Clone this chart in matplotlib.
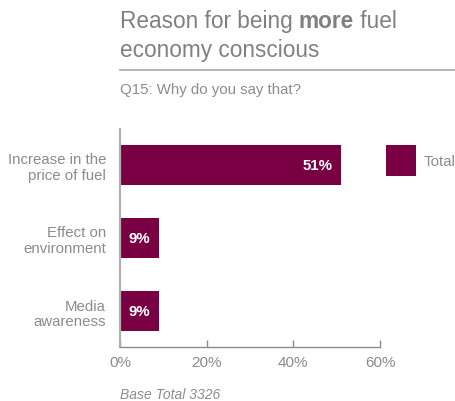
import matplotlib
matplotlib.use("Agg")
import matplotlib.pyplot as plt
from matplotlib.patches import Patch
from matplotlib.lines import Line2D

plt.rcParams["font.family"] = ["Liberation Sans", "DejaVu Sans"]

categories = ["Increase in the\nprice of fuel", "Effect on\nenvironment", "Media\nawareness"]
values = [51, 9, 9]
xticks = [0, 20, 40, 60]
series_name = "Total"
base_note = "Base Total 3326"

BAR = "#7a0044"
GREY = "#8c8c8c"
TITLE_GREY = "#808080"

W, H = 456, 402
fig = plt.figure(figsize=(W / 100, H / 100), dpi=100)
ax = fig.add_axes([120 / W, 1 - 348 / H, 260 / W, 218 / H])

ypos = list(range(len(values)))
ax.barh(ypos, values, height=40 / 73, color=BAR, zorder=2)
ax.set_xlim(0, 60)
ax.set_ylim(len(values) - 1 + 0.493, -0.493)

ax.set_yticks(ypos)
ax.set_yticklabels(categories, fontsize=10.8, color=GREY, linespacing=1.15)
ax.tick_params(axis="y", length=0, pad=10)
ax.set_xticks(xticks)
ax.set_xticklabels([f"{t}%" for t in xticks], fontsize=11, color=GREY)
ax.tick_params(axis="x", direction="in", length=5, width=1, color=GREY, pad=6)

for s in ("top", "right"):
    ax.spines[s].set_visible(False)
ax.spines["bottom"].set_color(GREY)
ax.spines["bottom"].set_linewidth(1)
ax.spines["left"].set_color("#b0b0b0")
ax.spines["left"].set_linewidth(1.6)

for y, v in zip(ypos, values):
    if v > 20:
        ax.text(v - 1.9, y, f"{v}%", ha="right", va="center", color="white",
                fontsize=10.8, fontweight="bold")
    else:
        ax.text(v / 2, y, f"{v}%", ha="center", va="center", color="white",
                fontsize=10.8, fontweight="bold")

ax.legend([Patch(facecolor=BAR)], [series_name], loc="upper left",
          bbox_to_anchor=(386 / W, 1 - 146 / H), bbox_transform=fig.transFigure,
          frameon=False, borderpad=0, borderaxespad=0, handlelength=2.0,
          handleheight=2.8, handletextpad=0.5, prop={"size": 10.8},
          labelcolor=GREY)

# title with a bold word in the middle of the first line
fig.canvas.draw()
renderer = fig.canvas.get_renderer()
x0 = 120 / W
y1 = 1 - 28 / H
parts = [("Reason for being ", "normal"), ("more", "bold"), (" fuel", "normal")]
x = x0
for txt, wt in parts:
    t = fig.text(x, y1, txt, fontsize=16.3, color=TITLE_GREY, fontweight=wt,
                 ha="left", va="baseline")
    bb = t.get_window_extent(renderer)
    x += bb.width / W
fig.text(x0, 1 - 57 / H, "economy conscious", fontsize=16.3, color=TITLE_GREY,
         ha="left", va="baseline")
fig.add_artist(Line2D([x0, 1], [1 - 71 / H, 1 - 71 / H], transform=fig.transFigure,
                      color="#a8a8a8", lw=1.2))
fig.text(x0, 1 - 94 / H, "Q15: Why do you say that?", fontsize=10.8, color=GREY,
         ha="left", va="baseline")
fig.text(x0, 1 - 399 / H, base_note, fontsize=10, color=GREY, style="italic",
         ha="left", va="baseline")

fig.savefig("out.png", dpi=100)
